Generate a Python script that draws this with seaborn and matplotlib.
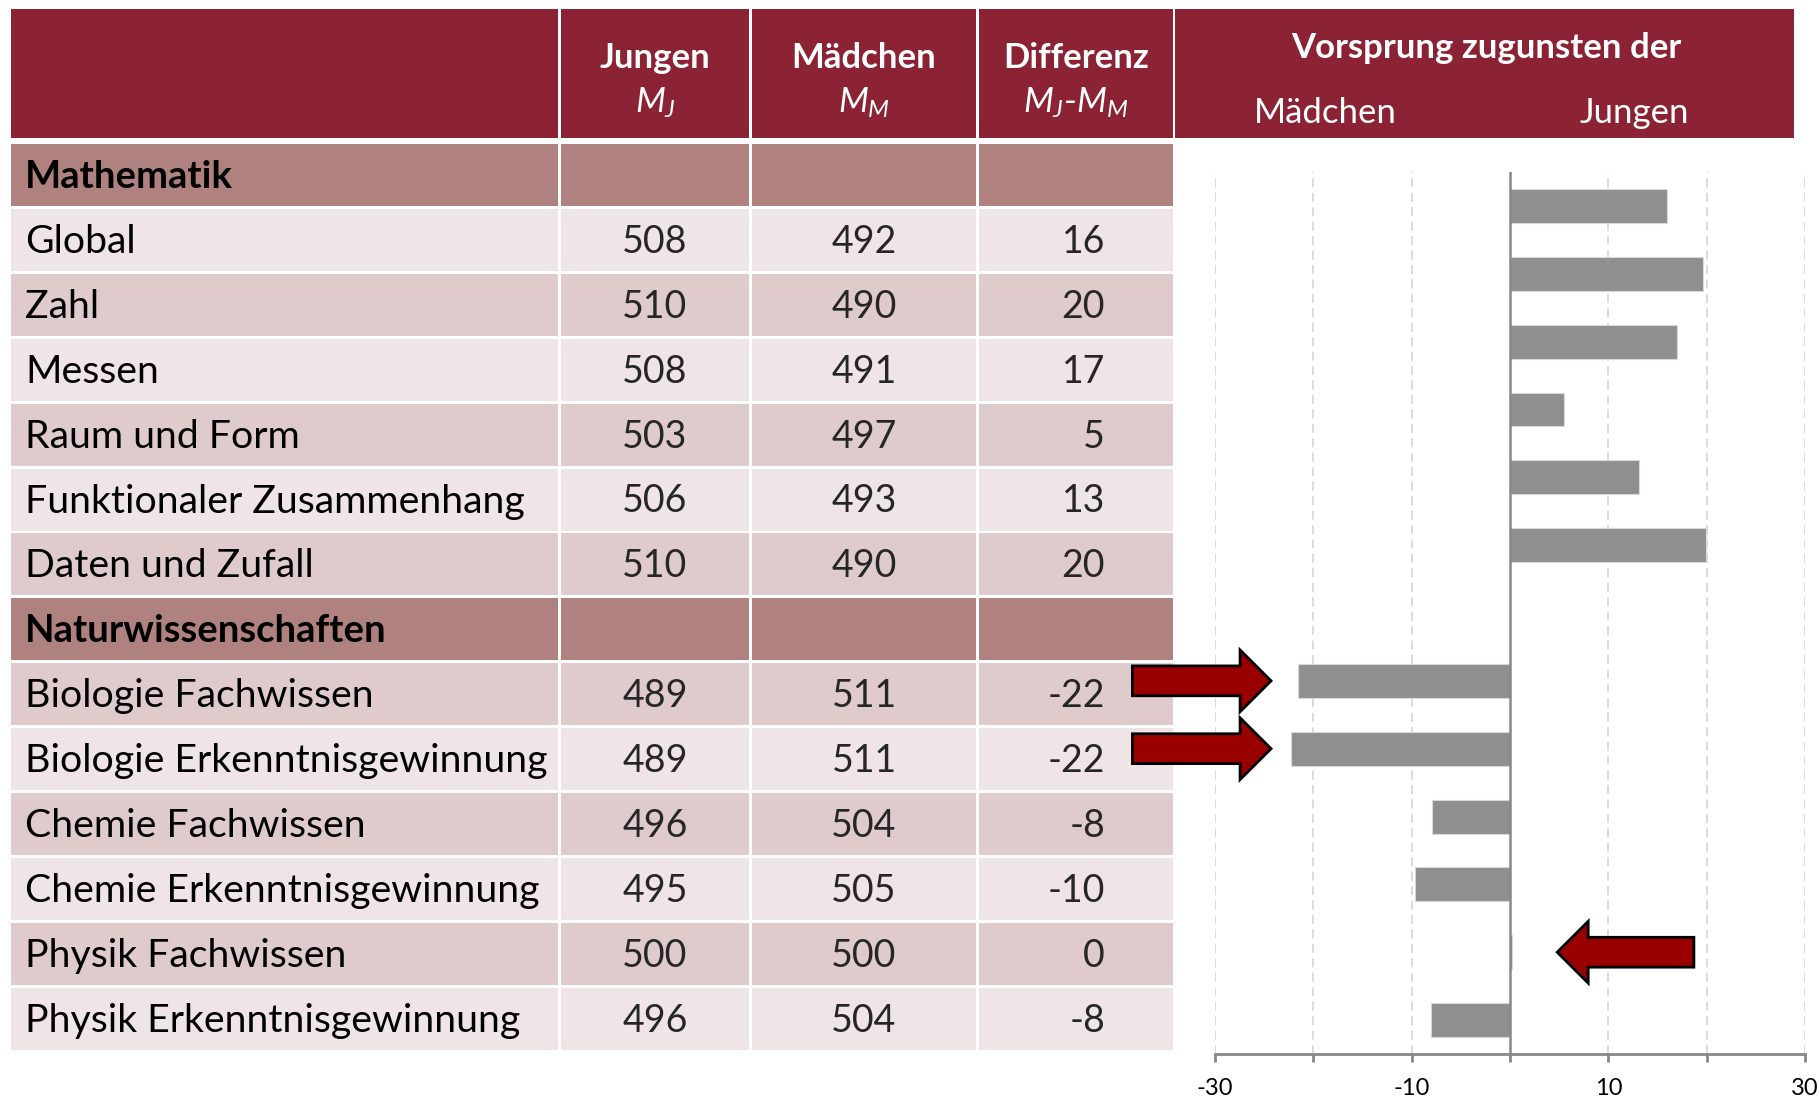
import matplotlib
matplotlib.use("Agg")
import matplotlib.pyplot as plt
import seaborn as sns
import pandas as pd
from matplotlib.patches import Rectangle, FancyArrow

# ---------------- data ----------------
row_labels = ["Mathematik", "Global", "Zahl", "Messen", "Raum und Form",
              "Funktionaler Zusammenhang", "Daten und Zufall",
              "Naturwissenschaften", "Biologie Fachwissen",
              "Biologie Erkenntnisgewinnung", "Chemie Fachwissen",
              "Chemie Erkenntnisgewinnung", "Physik Fachwissen",
              "Physik Erkenntnisgewinnung"]
section_rows = ["Mathematik", "Naturwissenschaften"]
jungen = [None, 508, 510, 508, 503, 506, 510, None, 489, 489, 496, 495, 500, 496]
maedchen = [None, 492, 490, 491, 497, 493, 490, None, 511, 511, 504, 505, 500, 504]
differenz = [None, 16, 20, 17, 5, 13, 20, None, -22, -22, -8, -10, 0, -8]

bar_categories = ["Global", "Zahl", "Messen", "Raum und Form",
                  "Funktionaler Zusammenhang", "Daten und Zufall",
                  "Biologie Fachwissen", "Biologie Erkenntnisgewinnung",
                  "Chemie Fachwissen", "Chemie Erkenntnisgewinnung",
                  "Physik Fachwissen", "Physik Erkenntnisgewinnung"]
bar_values = [16.0, 19.6, 17.0, 5.5, 13.1, 19.9,
              -21.6, -22.3, -7.9, -9.7, 0.2, -8.0]
bar_order = bar_categories[:6] + [" "] + bar_categories[6:]
x_ticks = [-30, -20, -10, 0, 10, 20, 30]
x_ticklabels = ["-30", "", "-10", "", "10", "", "30"]

# ---------------- style ----------------
sns.set_theme(style="white")
plt.rcParams["font.family"] = ["Lato", "DejaVu Sans"]
plt.rcParams["mathtext.fontset"] = "custom"
plt.rcParams["mathtext.rm"] = "Lato"
plt.rcParams["mathtext.it"] = "Lato:italic"
plt.rcParams["mathtext.bf"] = "Lato:bold"

HEADER = "#8B2335"
SECTION = "#AF8280"
LIGHT = "#EFE5E6"
DARK = "#DFCBCC"
BAR = "#8F8F8F"
ARROW = "#990000"

W, H = 1820, 1098
fig = plt.figure(figsize=(W / 100, H / 100), dpi=100)
fig.patch.set_facecolor("white")

# table layer in pixel coordinates
tab = fig.add_axes([0, 0, 1, 1])
tab.set_xlim(0, W)
tab.set_ylim(H, 0)
tab.axis("off")

cols = [(11, 558), (561, 749), (752, 976), (979, 1173)]
header_top, header_bot = 9, 138

for (x0, x1) in cols:
    tab.add_patch(Rectangle((x0, header_top), x1 - x0, header_bot - header_top,
                            facecolor=HEADER, edgecolor="none"))
tab.add_patch(Rectangle((1175, header_top), 1794 - 1175, header_bot - header_top,
                        facecolor=HEADER, edgecolor="none"))

hdr_fs = 25
tab.text(655, 68, "Jungen", ha="center", va="baseline", color="white",
         fontsize=hdr_fs, fontweight="bold")
tab.text(864, 68, "Mädchen", ha="center", va="baseline", color="white",
         fontsize=hdr_fs, fontweight="bold")
tab.text(1076, 68, "Differenz", ha="center", va="baseline", color="white",
         fontsize=hdr_fs, fontweight="bold")
tab.text(655, 113, r"$M_J$", ha="center", va="baseline", color="white",
         fontsize=hdr_fs)
tab.text(864, 113, r"$M_M$", ha="center", va="baseline", color="white",
         fontsize=hdr_fs)
tab.text(1076, 113, r"$M_J$-$M_M$", ha="center", va="baseline", color="white",
         fontsize=hdr_fs)

tab.text(1486, 58, "Vorsprung zugunsten der", ha="center", va="baseline",
         color="white", fontsize=hdr_fs, fontweight="bold")
tab.text(1325, 123, "Mädchen", ha="center", va="baseline", color="white",
         fontsize=hdr_fs)
tab.text(1634, 123, "Jungen", ha="center", va="baseline", color="white",
         fontsize=hdr_fs)

row_top0, row_pitch, row_h = 144, 64.9, 62
label_fs = 28.3
num_fs = 27
for i, lab in enumerate(row_labels):
    top = row_top0 + row_pitch * i
    if lab in section_rows:
        fc = SECTION
    else:
        fc = DARK if i % 2 == 0 else LIGHT
    for (x0, x1) in cols:
        tab.add_patch(Rectangle((x0, top), x1 - x0, row_h,
                                facecolor=fc, edgecolor="none"))
    base = top + row_h / 2 + 13
    tab.text(25, base, lab, ha="left", va="baseline", color="black",
             fontsize=label_fs if lab not in section_rows else 27.5,
             fontweight="bold" if lab in section_rows else "normal")
    if jungen[i] is not None:
        tab.text(655, base, str(jungen[i]), ha="center", va="baseline",
                 fontsize=num_fs)
        tab.text(864, base, str(maedchen[i]), ha="center", va="baseline",
                 fontsize=num_fs)
        tab.text(1105, base, str(differenz[i]), ha="right", va="baseline",
                 fontsize=num_fs)

# ---------------- bar chart ----------------
ax_left, ax_right = 1215, 1805
ax_top, ax_bot = 172, 1054
ax = fig.add_axes([ax_left / W, (H - ax_bot) / H, (ax_right - ax_left) / W,
                   (ax_bot - ax_top) / H])
ax.set_zorder(3)
ax.patch.set_visible(False)

df = pd.DataFrame({"Bereich": bar_categories, "Differenz": bar_values})
sns.barplot(data=df, x="Differenz", y="Bereich", order=bar_order,
            color=BAR, width=0.5, orient="h", ax=ax, saturation=1,
            edgecolor="#D8D8D8", linewidth=0.8)

ax.set_xlim(-30, 30)
ax.set_ylim(len(bar_order) - 0.5, -0.5)
ax.set_xticks(x_ticks)
ax.set_xticklabels(x_ticklabels, fontsize=17)
ax.set_yticks([])
ax.set_xlabel("")
ax.set_ylabel("")
for s in ["top", "right", "left"]:
    ax.spines[s].set_visible(False)
ax.spines["bottom"].set_color("#888888")
ax.spines["bottom"].set_linewidth(2)
ax.tick_params(axis="x", direction="out", length=6, width=2, color="#888888",
               pad=11, labelcolor="black", bottom=True)
for xv in x_ticks:
    if xv != 0:
        ax.axvline(xv, color="#D9D9D9", lw=1.3, ls=(0, (5, 3)), zorder=0)
ax.axvline(0, color="#888888", lw=1.8, zorder=4)

# arrows
ax.add_patch(FancyArrow(-38.4, 7, 14.1, 0, width=0.44, head_width=0.91,
                        head_length=3.15, length_includes_head=True,
                        facecolor=ARROW, edgecolor="black", lw=2,
                        clip_on=False, zorder=6))
ax.add_patch(FancyArrow(-38.4, 8, 14.1, 0, width=0.44, head_width=0.91,
                        head_length=3.15, length_includes_head=True,
                        facecolor=ARROW, edgecolor="black", lw=2,
                        clip_on=False, zorder=6))
ax.add_patch(FancyArrow(18.7, 11, -13.9, 0, width=0.44, head_width=0.91,
                        head_length=3.15, length_includes_head=True,
                        facecolor=ARROW, edgecolor="black", lw=2,
                        clip_on=False, zorder=6))

fig.savefig("out.png", dpi=100, facecolor="white")
